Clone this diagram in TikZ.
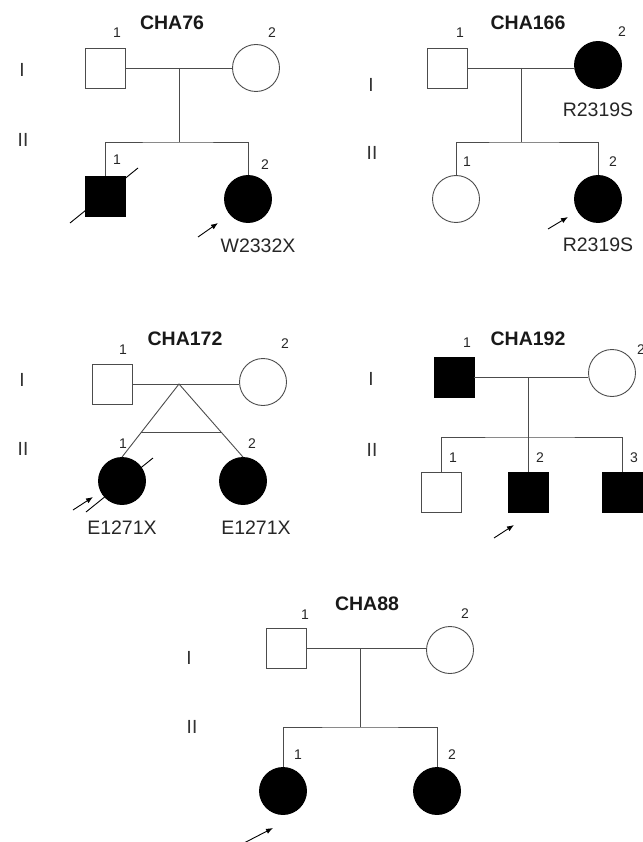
\documentclass[tikz,border=0pt]{standalone}
\usepackage{fontspec}
\setmainfont{Liberation Sans}
\usetikzlibrary{positioning, calc, arrows.meta}

\tikzset{
  person/.style={draw=black!70, line width=0.9pt, inner sep=0pt},
  male/.style={person, rectangle, minimum size=40pt},
  female/.style={person, circle, minimum size=47pt},
  aff/.style={fill=black, draw=black},
  line/.style={draw=black!70, line width=0.9pt},
  title/.style={font=\fontsize{19.5}{20}\selectfont\bfseries, text=black!90},
  mut/.style={font=\fontsize{19.5}{20}\selectfont, text=black!85},
  gen/.style={font=\fontsize{19}{19}\selectfont, text=black!80},
  num/.style={font=\fontsize{14}{14}\selectfont, text=black!85},
  prob/.style={line width=0.9pt, -{Latex[length=7pt,width=5.5pt]}},
}

\begin{document}
\begin{tikzpicture}[x=1pt, y=-1pt, on grid]
    \useasboundingbox (0,0) rectangle (642,842);

    % CHA76
    \node[title] (t76) at (172,23) {CHA76};
    \node[gen] (g76a) at (22,70) {I};
    \node[gen] (g76b) at (23,140) {II};
    \node[male] (a1) at (105,68) {};
    \node[female] (a2) [right=151pt of a1] {};
    \node[male, aff] (a3) [below=128pt of a1] {};
    \node[female, aff] (a4) at (248,199) {};
    \node[num] (a1n) at (117,33) {1};
    \node[num] (a2n) at (272,33) {2};
    \node[num] (a3n) at (117,160) {1};
    \node[num] (a4n) at (265,165) {2};
    \node[mut] (a4m) at (258,246) {W2332X};
    \coordinate (a12) at (179,68);
    \coordinate (a34) at (179,142);
    \draw[line] (a1) -- (a2);
    \draw[line] (a12) -- (a34);
    \draw[line] (a3.north) |- (a34) -| (a4.north);
    \draw[line, draw=black] ([shift={(-35,27)}]a3.center) -- ([shift={(33,-28)}]a3.center);
    \coordinate (a4p) at (198,237);
    \draw[prob] (a4p) -- ++(20,-14);

    % CHA166
    \node[title] (t166) at (528,23) {CHA166};
    \node[gen] (g166a) at (371,85) {I};
    \node[gen] (g166b) at (372,153) {II};
    \node[male] (b1) at (447,68) {};
    \node[female, aff] (b2) at (598,65) {};
    \node[female] (b3) at (456,199) {};
    \node[female, aff] (b4) [below=134pt of b2] {};
    \node[num] (b1n) at (460,33) {1};
    \node[num] (b2n) at (622,32) {2};
    \node[num] (b3n) at (467,162) {1};
    \node[num] (b4n) at (613,162) {2};
    \node[mut] (b2m) [below=45pt of b2] {R2319S};
    \node[mut] (b4m) [below=46pt of b4] {R2319S};
    \coordinate (b12) at (521,68);
    \coordinate (b34) at (521,142);
    \draw[line] (b1.east) -- (b1.east -| b2.west);
    \draw[line] (b12) -- (b34);
    \draw[line] (b3.north) |- (b34) -| (b4.north);
    \coordinate (b4p) at (548,229);
    \draw[prob] (b4p) -- ++(20,-12);

    % CHA172
    \node[title] (t172) at (185,339) {CHA172};
    \node[gen] (g172a) at (22,380) {I};
    \node[gen] (g172b) at (23,449) {II};
    \node[male] (c1) at (112,384) {};
    \node[female] (c2) at (263,382) {};
    \node[female, aff] (c3) at (122,481) {};
    \node[female, aff] (c4) [right=121pt of c3] {};
    \node[num] (c1n) at (123,350) {1};
    \node[num] (c2n) at (285,344) {2};
    \node[num] (c3n) at (123,444) {1};
    \node[num] (c4n) at (252,444) {2};
    \node[mut] (c3m) [below=47pt of c3] {E1271X};
    \node[mut] (c4m) at (256,528) {E1271X};
    \coordinate (c12) at (179,384);
    \draw[line] (c1.east) -- (c1.east -| c2.west);
    \draw[line] (c3.north) -- (c12) -- (c4.north);
    \draw[line] ($(c12)!0.67!(c3.north)$) -- ($(c12)!0.67!(c4.north)$);
    \draw[line, draw=black] ([shift={(-36,31)}]c3.center) -- ([shift={(31,-23)}]c3.center);
    \coordinate (c3p) at (73,510);
    \draw[prob] (c3p) -- ++(20,-13);

    % CHA192
    \node[title] (t192) at (528,339) {CHA192};
    \node[gen] (g192a) at (371,379) {I};
    \node[gen] (g192b) at (372,450) {II};
    \node[male, aff] (d1) at (454,377) {};
    \node[female] (d2) at (612,373) {};
    \node[male] (d3) at (441,492) {};
    \node[male, aff] (d4) at (528,492) {};
    \node[male, aff] (d5) [right=94pt of d4] {};
    \node[num] (d1n) at (467,343) {1};
    \node[num] (d2n) at (641,350) {2};
    \node[num] (d3n) at (453,458) {1};
    \node[num] (d4n) at (540,458) {2};
    \node[num] (d5n) at (634,458) {3};
    \coordinate (d12) at (528,377);
    \coordinate (d34) at (528,437);
    \draw[line] (d1.east) -- (d1.east -| d2.west);
    \draw[line] (d12) -- (d4.north);
    \draw[line] (d3.north) |- (d34) -| (d5.north);
    \coordinate (d4p) at (494,538);
    \draw[prob] (d4p) -- ++(20,-13);

    % CHA88
    \node[title] (t88) at (367,604) {CHA88};
    \node[gen] (g88a) at (189,658) {I};
    \node[gen] (g88b) at (192,727) {II};
    \node[male] (e1) at (286,648) {};
    \node[female] (e2) at (450,650) {};
    \node[female, aff] (e3) at (283,791) {};
    \node[female, aff] (e4) [right=154pt of e3] {};
    \node[num] (e1n) at (305,615) {1};
    \node[num] (e2n) at (465,614) {2};
    \node[num] (e3n) at (298,755) {1};
    \node[num] (e4n) at (452,755) {2};
    \coordinate (e12) at (360,648);
    \coordinate (e34) at (360,727);
    \draw[line] (e1.east) -- (e1.east -| e2.west);
    \draw[line] (e12) -- (e34);
    \draw[line] (e3.north) |- (e34) -| (e4.north);
    \coordinate (e3p) at (244,843);
    \draw[prob] (e3p) -- ++(29,-15);
\end{tikzpicture}
\end{document}
